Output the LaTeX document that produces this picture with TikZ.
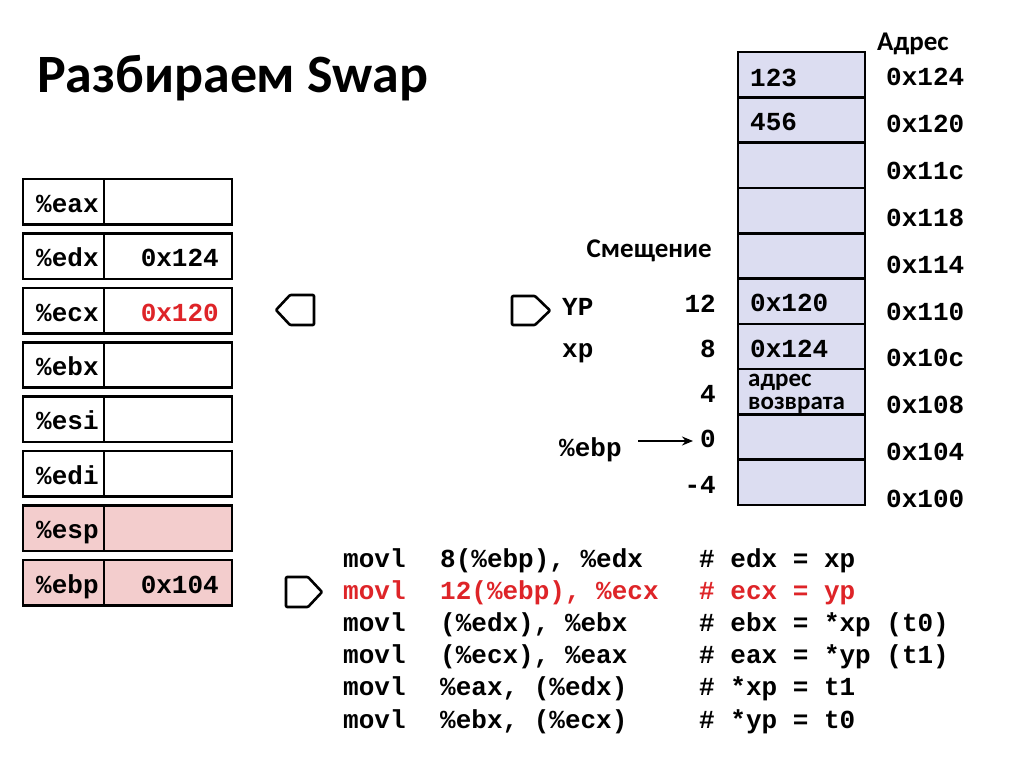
\documentclass[tikz,border=0pt]{standalone}
\usepackage{fontspec}
\setmainfont{Carlito}
\newfontfamily\mono{Liberation Mono}
\usetikzlibrary{arrows.meta}
\definecolor{hired}{RGB}{222,36,40}
\definecolor{pinkfill}{RGB}{243,205,205}
\definecolor{lavfill}{RGB}{220,221,241}
\tikzset{
  box/.style={draw=black, line width=2.6pt, rectangle, inner sep=0pt, minimum height=45.5pt},
  regname/.style={box, minimum width=81pt},
  regval/.style={box, minimum width=128pt},
  cell/.style={draw=black, line width=2.6pt, rectangle, inner sep=0pt, fill=lavfill, minimum width=127pt, minimum height=45.3pt},
  mtxt/.style={inner sep=0pt, font=\mono\bfseries\fontsize{26}{26}\selectfont},
  stxt/.style={inner sep=0pt, font=\bfseries\fontsize{27}{27}\selectfont},
  rtxt/.style={inner sep=0pt, font=\bfseries\fontsize{25}{25}\selectfont},
  marker/.style={draw=black, line width=2.6pt, line join=round, rounded corners=1pt},
  ptr/.style={draw=black, line width=2.2pt, -{Stealth[length=11pt,width=9pt]}}
}
\begin{document}
\begin{tikzpicture}[x=1pt,y=-1pt]
\useasboundingbox (0,0) rectangle (1024,767);
\fill[white] (0,0) rectangle (1024,767);
% title
\node[inner sep=0pt, anchor=base west, font=\bfseries\fontsize{54}{54}\selectfont] (title) at (37,93) {Разбираем Swap};
% registers
\foreach \nm/\val/\fl/\col [count=\i from 0] in {eax//white/black, edx/0x124/white/black, ecx/0x120/white/hired, ebx//white/black, esi//white/black, edi//white/black, esp//pinkfill/black, ebp/0x104/pinkfill/black}{
  \pgfmathsetmacro{\my}{201.75+54.4*\i}
  \node[regname, fill=\fl] (\nm N) at (63.5,\my) {};
  \node[regval, fill=\fl] (\nm V) at (168,\my) {};
  \node[mtxt, anchor=base west] (\nm T) at (36,\my+10.5) {\%\nm};
  \node[mtxt, anchor=base east, text=\col] (\nm X) at (219,\my+10.5) {\val};
}
% stack cells
\foreach \i in {0,...,9}{
  \node[cell] (c\i) at (801.5,74.65+45.3*\i) {};
}
\node[mtxt, anchor=base west] (v0) at (750,87) {123};
\node[mtxt, anchor=base west] (v1) at (750,131) {456};
\node[mtxt, anchor=base west] (v5) at (750,311) {0x120};
\node[mtxt, anchor=base west] (v6) at (750,357) {0x124};
\node[rtxt, anchor=base west] (v7a) at (748,386) {адрес};
\node[rtxt, anchor=base west] (v7b) at (748,409) {возврата};
% addresses
\node[stxt, anchor=base west] (adrh) at (877,51) {Адрес};
\foreach \a [count=\i from 0] in {0x124,0x120,0x11c,0x118,0x114,0x110,0x10c,0x108,0x104,0x100}{
  \node[mtxt, anchor=base west] (a\i) at (886,86+46.8*\i) {\a};
}
% offsets
\node[stxt, anchor=base east] (offh) at (712,258) {Смещение};
\node[mtxt, anchor=base east] (o12) at (716,312) {12};
\node[mtxt, anchor=base east] (o8) at (716,357) {8};
\node[mtxt, anchor=base east] (o4) at (716,402) {4};
\node[mtxt, anchor=base east] (o0) at (716,447) {0};
\node[mtxt, anchor=base east] (om4) at (716,493) {-4};
\node[mtxt, anchor=base west] (yp) at (562,315) {YP};
\node[mtxt, anchor=base west] (xp) at (562,357) {xp};
\node[mtxt, anchor=base west] (ebpL) at (559,456) {\%ebp};
\coordinate (arA) at (638,441);
\coordinate (arB) at (693,441);
\draw[ptr] (arA) -- (arB);
% markers
\draw[marker] (314,295) -- (290,295) -- (276,310) -- (290,325) -- (314,325) -- cycle;
\draw[marker] (512,296) -- (535,296) -- (550,310.5) -- (535,325) -- (512,325) -- cycle;
\draw[marker] (286,577) -- (308,577) -- (322,592) -- (308,607) -- (286,607) -- cycle;
% code
\foreach \ins/\op/\cm/\col [count=\i from 0] in {
  movl/{8(\%ebp), \%edx}/{\# edx = xp}/black,
  movl/{12(\%ebp), \%ecx}/{\# ecx = yp}/hired,
  movl/{(\%edx), \%ebx}/{\# ebx = *xp (t0)}/black,
  movl/{(\%ecx), \%eax}/{\# eax = *yp (t1)}/black,
  movl/{\%eax, (\%edx)}/{\# *xp = t1}/black,
  movl/{\%ebx, (\%ecx)}/{\# *yp = t0}/black}{
  \pgfmathsetmacro{\by}{567+32.2*\i}
  \node[mtxt, anchor=base west, text=\col] (ci\i) at (343,\by) {\ins};
  \node[mtxt, anchor=base west, text=\col] (co\i) at (440,\by) {\op};
  \node[mtxt, anchor=base west, text=\col] (cc\i) at (699,\by) {\cm};
}
\end{tikzpicture}
\end{document}
